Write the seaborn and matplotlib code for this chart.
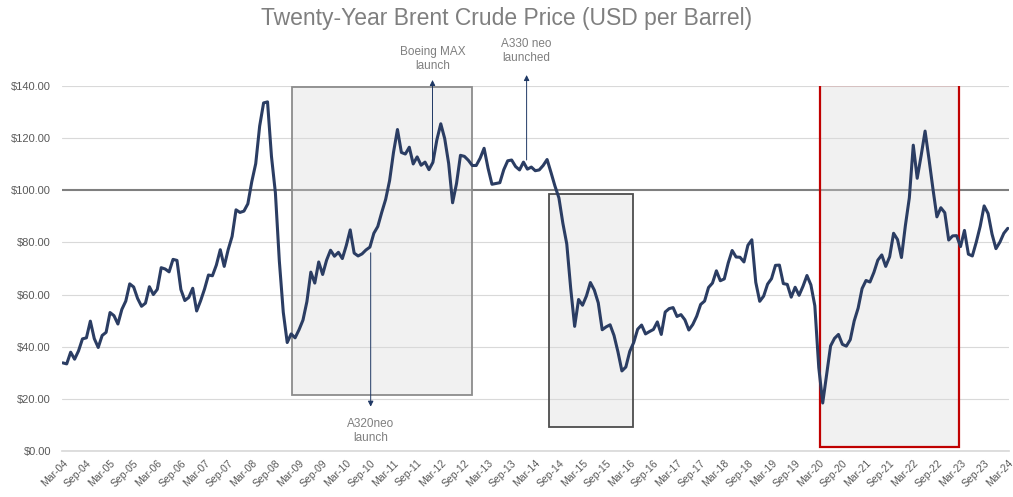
import numpy as np
import pandas as pd
import seaborn as sns
import matplotlib.pyplot as plt
from matplotlib.patches import Rectangle

# monthly Brent average, Mar-04 .. Mar-24
price = [
    33.8, 33.4, 37.9, 35.2, 38.4, 43.0, 43.4, 49.8, 43.1, 39.7,
    44.3, 45.5, 53.1, 51.9, 48.7, 54.3, 57.5, 64.1, 62.9, 58.5, 55.5, 56.7,
    63.0, 60.0, 62.0, 70.3, 69.8, 68.7, 73.5, 73.1, 61.9, 57.7, 58.9, 62.4,
    53.7, 57.6, 62.1, 67.5, 67.2, 71.3, 77.2, 70.8, 77.2, 82.3, 92.5, 91.5,
    92.0, 94.8, 103.3, 110.2, 124.6, 133.5, 133.9, 113.0, 99.0, 72.8, 53.2, 41.6,
    44.9, 43.4, 46.5, 50.2, 57.3, 68.6, 64.4, 72.5, 67.7, 73.2, 77.0, 74.7,
    76.2, 73.8, 78.8, 84.8, 75.9, 74.8, 75.6, 77.1, 78.2, 83.5, 86.1, 91.5,
    96.5, 103.7, 114.6, 123.3, 114.5, 113.9, 116.5, 110.1, 112.8, 109.6, 110.8, 107.9,
    110.7, 119.3, 125.5, 119.8, 110.3, 95.2, 102.6, 113.4, 113.0, 111.5, 109.5, 109.5,
    112.3, 116.1, 108.5, 102.3, 102.6, 102.9, 107.9, 111.3, 111.6, 109.1, 107.8, 110.8,
    108.1, 108.9, 107.5, 107.8, 109.5, 111.8, 106.8, 101.6, 97.1, 87.4, 79.4, 62.3,
    47.8, 58.1, 55.9, 59.5, 64.6, 61.7, 56.8, 46.5, 47.6, 48.4, 44.3, 38.0,
    30.7, 32.2, 38.2, 41.6, 46.7, 48.3, 44.9, 45.8, 46.6, 49.5, 44.7, 53.3,
    54.6, 55.0, 51.6, 52.3, 50.3, 46.4, 48.5, 51.7, 56.2, 57.5, 62.7, 64.4,
    69.1, 65.3, 66.0, 72.1, 76.9, 74.4, 74.3, 72.5, 78.9, 81.0, 64.7, 57.4,
    59.4, 64.0, 66.1, 71.2, 71.3, 64.2, 63.9, 59.0, 62.8, 59.7, 63.2, 67.3,
    63.7, 55.7, 32.0, 18.4, 29.4, 40.3, 43.2, 44.7, 40.9, 40.2, 42.7, 49.9,
    54.8, 62.3, 65.4, 64.8, 68.5, 73.2, 75.2, 70.8, 74.5, 83.5, 81.1, 74.2,
    86.5, 97.1, 117.3, 104.6, 113.3, 122.7, 111.9, 100.5, 89.8, 93.3, 91.4, 80.9,
    82.5, 82.6, 78.4, 84.6, 75.5, 74.8, 80.1, 86.2, 94.0, 91.1, 83.2, 77.6,
    80.1, 83.5, 85.4,
]
months = pd.date_range('2004-03-01', periods=len(price), freq='MS')

# highlighted periods (month index from Mar-04, price range)
box_x0 = [58.1, 123.4, 192.2]
box_x1 = [104.0, 144.8, 227.5]
box_y0 = [21.5, 9.2, 1.6]
box_y1 = [139.8, 98.6, 140.4]
box_edge = ['#8c8c8c', '#4d4d4d', '#c00000']

# events: label, month index, price at line end, price at arrow tip, price of label edge
event_label = ['Boeing MAX\nlaunch', 'A330 neo\nlaunched', 'A320neo\nlaunch']
event_x = [93.9, 117.8, 78.2]
event_from = [110.0, 111.6, 76.0]
event_to = [142.3, 144.2, 17.0]
event_text = [145.2, 148.4, 12.6]

df = pd.DataFrame({'m': np.arange(len(price)), 'price': price})

sns.set_theme(style='white')
plt.rcParams['font.family'] = ['Liberation Sans', 'DejaVu Sans']

fig = plt.figure(figsize=(10.13, 4.97), dpi=100)
ax = fig.add_axes([0.0612, 0.0926, 0.9348, 0.7344])

for y in range(0, 141, 20):
    if y == 100:
        ax.axhline(y, color='#7f7f7f', lw=1.5, zorder=1)
    else:
        ax.axhline(y, color='#d9d9d9', lw=0.8, zorder=0)

for x0, x1, y0, y1, ec in zip(box_x0, box_x1, box_y0, box_y1, box_edge):
    ax.add_patch(Rectangle((x0, y0), x1 - x0, y1 - y0, facecolor='#d9d9d9',
                           alpha=0.35, edgecolor='none', zorder=1.5))
    ax.add_patch(Rectangle((x0, y0), x1 - x0, y1 - y0, facecolor='none',
                           edgecolor=ec, lw=1.3 if ec != '#c00000' else 1.6, zorder=2))

sns.lineplot(data=df, x='m', y='price', color='#2b3d63', lw=2.2, ax=ax, zorder=3)

for lab, x, yf, yt, tt in zip(event_label, event_x, event_from, event_to, event_text):
    ax.annotate('', xy=(x, yt), xytext=(x, yf), annotation_clip=False,
                arrowprops=dict(arrowstyle='-|>', color='#1f3864', lw=0.7,
                                mutation_scale=8, shrinkA=0, shrinkB=0), zorder=4)
    ax.text(x, tt, lab, ha='center', va='bottom' if yt > yf else 'top',
            fontsize=8.5, color='#7f7f7f', linespacing=1.25)

ax.set_xlim(-0.2, 240.3)
ax.set_ylim(0, 140)
ax.set_xticks(np.arange(0, len(price), 6))
ax.set_xticklabels([d.strftime('%b-%y') for d in months[::6]], rotation=45,
                   ha='right', rotation_mode='anchor', fontsize=7.5, color='#595959')
ax.set_yticks(range(0, 141, 20))
ax.set_yticklabels([f'${v:.2f}' for v in range(0, 141, 20)], fontsize=8, color='#595959')
ax.tick_params(axis='x', length=3, color='#d9d9d9', pad=2)
ax.tick_params(axis='y', length=0, pad=8)
ax.set_xlabel('')
ax.set_ylabel('')
for s in ax.spines.values():
    s.set_visible(False)
ax.spines['bottom'].set_visible(True)
ax.spines['bottom'].set_color('#d9d9d9')

fig.text(0.5, 0.963, 'Twenty-Year Brent Crude Price (USD per Barrel)', ha='center',
         va='center', fontsize=16.5, color='#7f7f7f')

fig.savefig('out.png', dpi=100)
